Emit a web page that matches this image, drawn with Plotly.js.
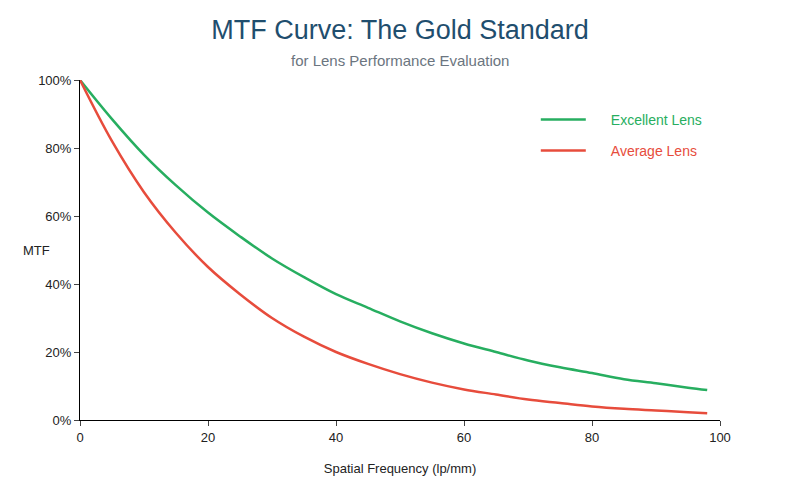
<!DOCTYPE html>
<html>
<head>
<script src="https://cdn.plot.ly/plotly-3.0.1.min.js"></script>
<style>body{margin:0}#chart{width:800px;height:500px}</style>
</head>
<body>
<div id="chart"></div>
<script>
var freq = [0, 5, 10, 15, 20, 25, 30, 35, 40, 45, 50, 55, 60, 65, 70, 75, 80, 85, 90, 95, 98];
var excellent = [100, 88.5, 78, 69, 61, 54, 47.5, 42, 37, 33, 29, 25.5, 22.5, 20, 17.5, 15.5, 13.8, 12, 10.8, 9.5, 8.8];
var average = [100, 82, 67, 55, 45, 37, 30, 24.5, 20, 16.5, 13.5, 11, 9, 7.5, 6, 5, 4, 3.3, 2.8, 2.3, 2];

var traces = [
  {x: freq, y: excellent, name: 'Excellent Lens', legendgroup: 'a', mode: 'lines', line: {color: '#27ae60', width: 2.5, shape: 'spline'}},
  {x: freq, y: average, name: 'Average Lens', legendgroup: 'b', mode: 'lines', line: {color: '#e74c3c', width: 2.5, shape: 'spline'}}
];

var layout = {
  width: 800, height: 500,
  font: {family: 'Liberation Sans, Arial', size: 13, color: '#222'},
  margin: {l: 80, r: 80, t: 80, b: 80},
  plot_bgcolor: 'white', paper_bgcolor: 'white',
  title: {text: 'MTF Curve: The Gold Standard', x: 0.5, y: 0.94, yanchor: 'middle', yref: 'container', font: {size: 27, color: '#1f4e6e'}},
  xaxis: {range: [0, 100], dtick: 20, showgrid: false, zeroline: false, showline: true, linecolor: 'black',
    ticks: 'outside', ticklen: 5, title: {text: 'Spatial Frequency (lp/mm)', standoff: 20, font: {size: 13}}},
  yaxis: {range: [0, 100], dtick: 20, ticksuffix: '%', showgrid: false, zeroline: false, showline: true,
    linecolor: 'black', ticks: 'outside', ticklen: 5},
  legend: {x: 0.72, y: 0.93, xanchor: 'left', yanchor: 'top', bgcolor: 'rgba(0,0,0,0)', font: {size: 14},
    itemwidth: 60, traceorder: 'grouped', tracegroupgap: 10},
  annotations: [
    {text: 'for Lens Performance Evaluation', xref: 'paper', yref: 'paper', x: 0.5, y: 1.0, yshift: 20,
      yanchor: 'middle', showarrow: false, font: {size: 15, color: '#6b7580'}},
    {text: 'MTF', xref: 'paper', yref: 'paper', x: 0, y: 0.5, xshift: -28, xanchor: 'right',
      showarrow: false, font: {size: 13}}
  ]
};

Plotly.newPlot('chart', traces, layout, {displayModeBar: false}).then(function () {
  document.querySelectorAll('.legendtext').forEach(function (t, i) {
    t.style.fill = i === 0 ? '#27ae60' : '#e74c3c';
  });
  document.querySelectorAll('.legendlines path').forEach(function (p) {
    p.setAttribute('d', 'M-5,0h50');
  });
  document.querySelectorAll('.legendtext').forEach(function (t) {
    t.setAttribute('x', 70);
  });
});
</script>
</body>
</html>
